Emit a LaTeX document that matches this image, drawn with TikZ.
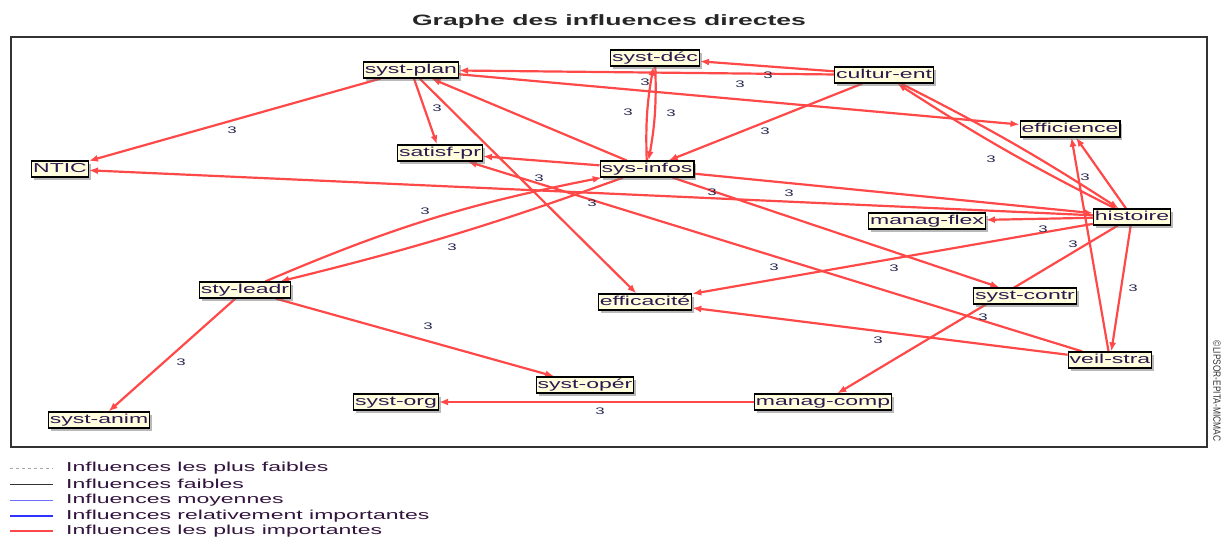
\documentclass[tikz,border=0pt]{standalone}
\usepackage{fontspec}
\newfontfamily\stretchsans{Liberation Sans}[FakeStretch=1.77]
\newfontfamily\condsans{Liberation Sans}[FakeStretch=0.8]
\usetikzlibrary{arrows.meta,shadows,backgrounds}
\definecolor{nodefill}{RGB}{255,255,222}
\definecolor{nodetext}{RGB}{45,25,80}
\definecolor{infred}{RGB}{255,72,72}
\definecolor{labtext}{RGB}{40,40,80}
\definecolor{legblue}{RGB}{50,50,255}
\definecolor{legblueb}{RGB}{110,110,255}
\definecolor{legtext}{RGB}{50,20,60}
\tikzset{
  var/.style={draw=black, line width=1.2pt, fill=nodefill, text=nodetext,
    font=\stretchsans\fontsize{13}{15}\selectfont,
    inner xsep=1.5pt, inner ysep=1.5pt, minimum height=16pt,
    text height=9.6pt, text depth=2.8pt,
    drop shadow={shadow xshift=2.5pt, shadow yshift=-2.5pt, fill=black!55}},
  infl/.style={draw=infred, line width=2.2pt, -{Latex[length=9pt,width=7pt]}},
  lab/.style={font=\stretchsans\fontsize{9.5}{10}\selectfont, text=labtext, inner sep=0pt},
  legtxt/.style={font=\stretchsans\fontsize{13}{15}\selectfont, text=legtext, anchor=west, inner sep=0pt},
  frameline/.style={draw=black!80, line width=1.3pt},
}
\begin{document}
\begin{tikzpicture}[x=1pt,y=-1pt]
\useasboundingbox (0,0) rectangle (1225,536);
\node[font=\stretchsans\bfseries\fontsize{15}{17}\selectfont, text=black!85, inner sep=0pt] (title) at (609,22) {Graphe des influences directes};

% variables
\node[var] (plan) at (411,70) {syst-plan};
\node[var] (dec) at (655,58) {syst-déc};
\node[var] (cult) at (884,75) {cultur-ent};
\node[var] (effi) at (1070,129) {efficience};
\node[var] (ntic) at (60,169) {NTIC};
\node[var] (satis) at (440,153) {satisf-pr};
\node[var] (infos) at (647,169) {sys-infos};
\node[var] (hist) at (1132,217) {histoire};
\node[var] (flex) at (927,221) {manag-flex};
\node[var] (lead) at (245,290) {sty-leadr};
\node[var] (effa) at (645,302) {efficacité};
\node[var] (contr) at (1025,296) {syst-contr};
\node[var] (veil) at (1110,360) {veil-stra};
\node[var] (oper) at (585,385) {syst-opér};
\node[var] (org) at (396,402) {syst-org};
\node[var] (comp) at (823,402) {manag-comp};
\node[var] (anim) at (99,420) {syst-anim};

\begin{scope}[on background layer]
  \draw[frameline] (11,37) rectangle (1207,447);
  \draw[infl] (plan) -- (ntic);
  \draw[infl] (plan) -- (satis);
  \draw[infl] (plan) -- (effa);
  \draw[infl] (plan) -- (effi);
  \draw[infl] (cult) -- (plan);
  \draw[infl] (cult) -- (dec);
  \draw[infl] (dec) to[bend left=6] (infos);
  \draw[infl] (infos) to[bend left=6] (dec);
  \draw[infl] (cult) -- (infos);
  \draw[infl] (infos) -- (plan);
  \draw[infl] (infos) -- (satis);
  \draw[infl] (hist) -- (ntic);
  \draw[infl] (infos) -- (hist);
  \draw[infl] (cult) to[bend left=3] (hist);
  \draw[infl] (hist) to[bend left=3] (cult);
  \draw[infl] (hist) -- (effi);
  \draw[infl] (veil) -- (effi);
  \draw[infl] (hist) -- (flex);
  \draw[infl] (hist) -- (effa);
  \draw[infl] (hist) -- (comp);
  \draw[infl] (infos) -- (contr);
  \draw[infl] (veil) -- (satis);
  \draw[infl] (veil) -- (effa);
  \draw[infl] (lead) to[bend left=6] (infos);
  \draw[infl] (infos) to[bend left=3] (lead);
  \draw[infl] (lead) -- (anim);
  \draw[infl] (lead) -- (oper);
  \draw[infl] (comp) -- (org);
  \draw[infl] (hist) -- (veil);
\end{scope}

% influence labels
\node[lab] (l1) at (232,130) {3};
\node[lab] (l2) at (437,108) {3};
\node[lab] (l3) at (645,82) {3};
\node[lab] (l4) at (628,112) {3};
\node[lab] (l5) at (671,113) {3};
\node[lab] (l6) at (740,84) {3};
\node[lab] (l7) at (768,75) {3};
\node[lab] (l8) at (765,131) {3};
\node[lab] (l9) at (991,159) {3};
\node[lab] (l10) at (1085,177) {3};
\node[lab] (l11) at (539,178) {3};
\node[lab] (l12) at (712,192) {3};
\node[lab] (l13) at (789,193) {3};
\node[lab] (l14) at (592,203) {3};
\node[lab] (l15) at (425,211) {3};
\node[lab] (l16) at (452,247) {3};
\node[lab] (l17) at (1043,229) {3};
\node[lab] (l18) at (1073,244) {3};
\node[lab] (l19) at (774,267) {3};
\node[lab] (l20) at (894,268) {3};
\node[lab] (l21) at (1133,288) {3};
\node[lab] (l22) at (983,317) {3};
\node[lab] (l23) at (878,340) {3};
\node[lab] (l24) at (428,326) {3};
\node[lab] (l25) at (181,362) {3};
\node[lab] (l26) at (600,411) {3};

% watermark
\node[rotate=-90, font=\condsans\fontsize{10.5}{11}\selectfont, text=black!80, inner sep=0pt] (wm) at (1217,391) {©LIPSOR-EPITA-MICMAC};

% legend
\coordinate (a1) at (10,468); \coordinate (b1) at (53,468);
\coordinate (a2) at (10,484); \coordinate (b2) at (53,484);
\coordinate (a3) at (10,500); \coordinate (b3) at (53,500);
\coordinate (a4) at (10,516); \coordinate (b4) at (53,516);
\coordinate (a5) at (10,531); \coordinate (b5) at (53,531);
\draw[black!35, line width=0.7pt, dash pattern=on 3pt off 3pt] (a1) -- (b1);
\draw[black!80, line width=0.8pt] (a2) -- (b2);
\draw[legblueb, line width=1pt] (a3) -- (b3);
\draw[legblue, line width=1.8pt] (a4) -- (b4);
\draw[infred, line width=2.4pt] (a5) -- (b5);
\node[legtxt] (t1) at (66,468) {Influences les plus faibles};
\node[legtxt] (t2) at (66,484) {Influences faibles};
\node[legtxt] (t3) at (66,500) {Influences moyennes};
\node[legtxt] (t4) at (66,516) {Influences relativement importantes};
\node[legtxt] (t5) at (66,531) {Influences les plus importantes};
\end{tikzpicture}
\end{document}
